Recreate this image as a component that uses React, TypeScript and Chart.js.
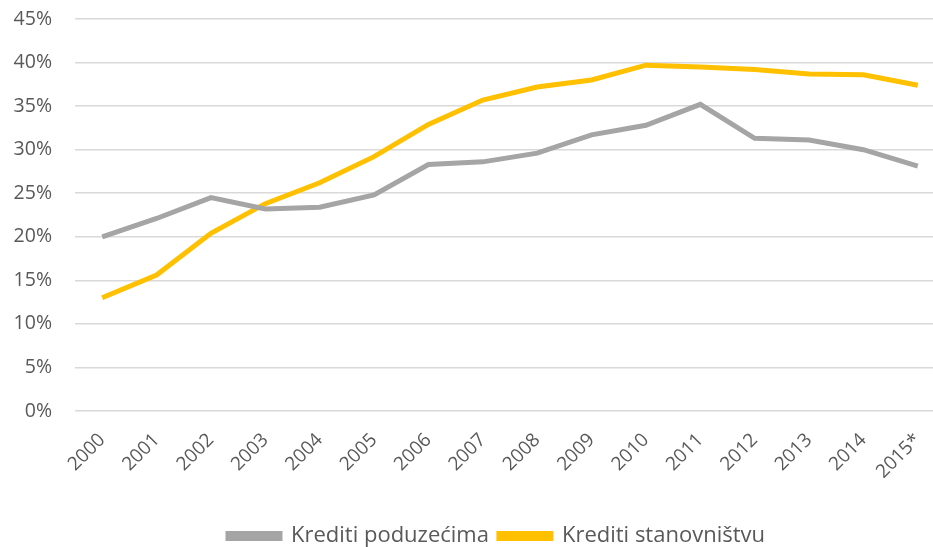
import React, { useEffect, useRef } from "react";
import { Chart, registerables } from "chart.js";

Chart.register(...registerables);

const years = ["2000", "2001", "2002", "2003", "2004", "2005", "2006", "2007", "2008", "2009", "2010", "2011", "2012", "2013", "2014", "2015*"];
const kreditiPoduzecima = [20.0, 22.1, 24.5, 23.2, 23.4, 24.8, 28.3, 28.6, 29.6, 31.7, 32.8, 35.2, 31.3, 31.1, 30.0, 28.1];
const kreditiStanovnistvu = [13.0, 15.6, 20.4, 23.8, 26.2, 29.2, 32.9, 35.7, 37.2, 38.0, 39.7, 39.5, 39.2, 38.7, 38.6, 37.4];
const yMax = 45;
const yStep = 5;

const FONT = "'Open Sans', sans-serif";
const TEXT = "#595959";

export default function App() {
  const ref = useRef<HTMLCanvasElement | null>(null);
  useEffect(() => {
    if (!ref.current) return;
    const shiftLegend = {
      id: "shiftLegend",
      afterUpdate(chart: any) {
        const lg = chart.legend;
        if (lg) {
          lg.left += 19;
          lg.right += 19;
          lg.adjustHitBoxes && lg.adjustHitBoxes();
        }
      },
    };
    const chart = new Chart(ref.current, {
      type: "line",
      data: {
        labels: years,
        datasets: [
          {
            label: "Krediti poduzećima",
            data: kreditiPoduzecima,
            borderColor: "#A5A5A5",
            backgroundColor: "#A5A5A5",
            borderWidth: 5,
            pointRadius: 0,
            tension: 0,
          },
          {
            label: "Krediti stanovništvu",
            data: kreditiStanovnistvu,
            borderColor: "#FFC000",
            backgroundColor: "#FFC000",
            borderWidth: 5,
            pointRadius: 0,
            tension: 0,
          },
        ],
      },
      options: {
        responsive: false,
        animation: false,
        layout: { padding: { top: 19, left: 10, right: 0, bottom: -10 } },
        scales: {
          x: {
            offset: true,
            grid: { display: false, drawTicks: false },
            border: { display: false },
            afterFit: (s: any) => {
              s.paddingLeft = 0;
              s.paddingRight = 0;
              s.height = 104;
            },
            ticks: {
              color: TEXT,
              font: { family: FONT, size: 19 },
              minRotation: 45,
              maxRotation: 45,
              padding: 18,
              autoSkip: false,
            },
          },
          y: {
            min: 0,
            max: yMax,
            grid: { color: "#D9D9D9", lineWidth: 1.5, drawTicks: false },
            border: { display: false },
            afterFit: (s: any) => {
              s.paddingTop = 0;
              s.paddingBottom = 0;
              s.width = 65;
            },
            ticks: {
              stepSize: yStep,
              color: TEXT,
              font: { family: FONT, size: 19.5 },
              padding: 23,
              callback: (v: any) => v + "%",
            },
          },
        },
        plugins: {
          legend: {
            position: "bottom",
            labels: {
              color: TEXT,
              font: { family: FONT, size: 22 },
              boxWidth: 52,
              boxHeight: 5,
              padding: 10,
            },
          },
          tooltip: { enabled: false },
        },
      },
      plugins: [shiftLegend],
    });
    return () => chart.destroy();
  }, []);
  return (
    <div style={{ position: "absolute", left: 0, top: 0, width: 933, height: 547, overflow: "hidden", background: "#fff" }}>
      <canvas ref={ref} width={945} height={547} style={{ display: "block" }} />
    </div>
  );
}
